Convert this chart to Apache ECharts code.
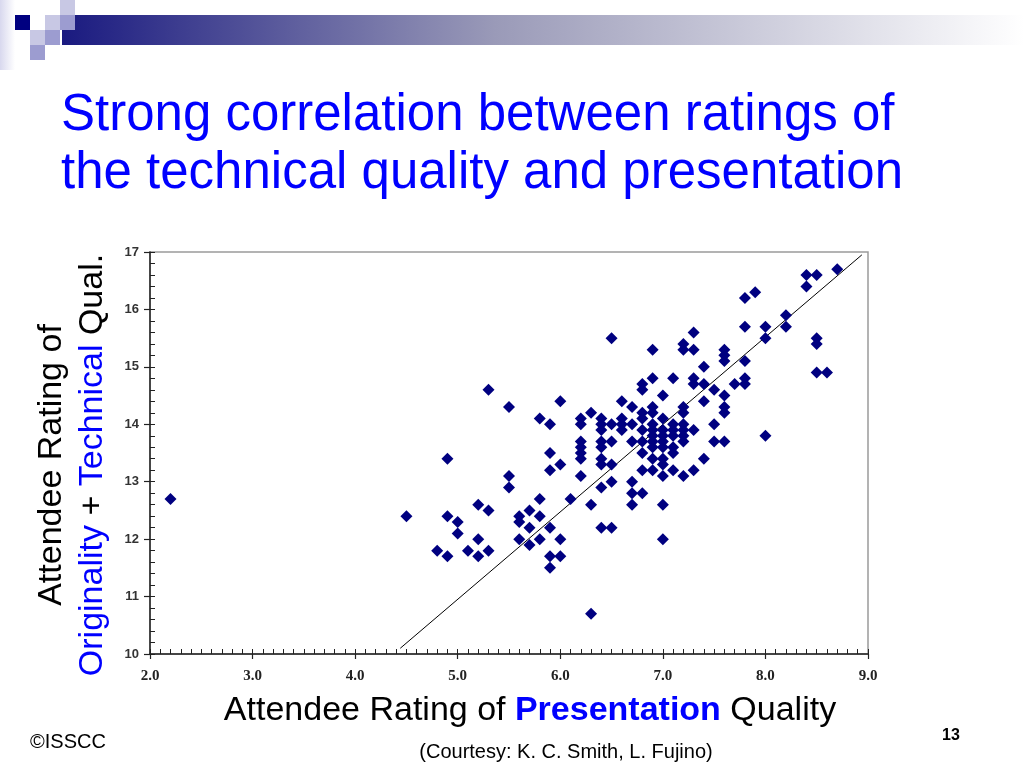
<!DOCTYPE html>
<html>
<head>
<meta charset="utf-8">
<script src="https://cdn.jsdelivr.net/npm/echarts@6/dist/echarts.min.js"></script>
<style>
html,body{margin:0;padding:0;background:#fff;}
#c{width:1024px;height:768px;}
</style>
</head>
<body>
<div id="c"></div>
<script>
// Presentation rating (x) and Originality+Technical rating (y)
const xTickLabels = ['2.0','3.0','4.0','5.0','6.0','7.0','8.0','9.0'];
const yTickLabels = ['10','11','12','13','14','15','16','17'];
const columns = [
  [2.2, [12.7]],
  [4.5, [12.4]],
  [4.8, [11.8]],
  [4.9, [13.4, 12.4, 11.7]],
  [5.0, [12.3, 12.1]],
  [5.1, [11.8]],
  [5.2, [12.6, 12.0, 11.7]],
  [5.3, [14.6, 12.5, 11.8]],
  [5.5, [14.3, 13.1, 12.9]],
  [5.6, [12.4, 12.3, 12.0]],
  [5.7, [12.5, 12.2, 11.9]],
  [5.8, [14.1, 12.7, 12.4, 12.0]],
  [5.9, [14.0, 13.5, 13.2, 12.2, 11.7, 11.5]],
  [6.0, [14.4, 13.3, 12.0, 11.7]],
  [6.1, [12.7]],
  [6.2, [14.1, 14.0, 13.7, 13.6, 13.5, 13.4, 13.1]],
  [6.3, [14.2, 12.6, 10.7]],
  [6.4, [14.1, 14.0, 13.9, 13.7, 13.6, 13.4, 13.3, 12.9, 12.2]],
  [6.5, [15.5, 14.0, 13.7, 13.3, 13.0, 12.2]],
  [6.6, [14.4, 14.1, 14.0, 13.9]],
  [6.7, [14.3, 14.0, 13.7, 13.0, 12.8, 12.6]],
  [6.8, [14.7, 14.6, 14.2, 14.1, 13.9, 13.7, 13.5, 13.2, 12.8]],
  [6.9, [15.3, 14.8, 14.3, 14.2, 14.0, 13.9, 13.8, 13.7, 13.6, 13.4, 13.2]],
  [7.0, [14.5, 14.1, 13.9, 13.8, 13.7, 13.6, 13.4, 13.3, 13.1, 12.6, 12.0]],
  [7.1, [14.8, 14.0, 13.9, 13.8, 13.6, 13.5, 13.2]],
  [7.2, [15.4, 15.3, 14.3, 14.2, 14.0, 13.9, 13.8, 13.7, 13.1]],
  [7.3, [15.6, 15.3, 14.8, 14.7, 13.9, 13.2]],
  [7.4, [15.0, 14.7, 14.4, 13.4]],
  [7.5, [14.6, 14.0, 13.7]],
  [7.6, [15.3, 15.2, 15.1, 14.5, 14.3, 14.2, 13.7]],
  [7.7, [14.7]],
  [7.8, [16.2, 15.7, 15.1, 14.8, 14.7]],
  [7.9, [16.3]],
  [8.0, [15.7, 15.5, 13.8]],
  [8.2, [15.9, 15.7]],
  [8.4, [16.6, 16.4]],
  [8.5, [16.6, 15.5, 15.4, 14.9]],
  [8.6, [14.9]],
  [8.7, [16.7]]
];
const fitLine = [[4.44, 10.1], [8.94, 16.95]];

const points = [];
columns.forEach(c => c[1].forEach(v => points.push([c[0], v])));

const chart = echarts.init(document.getElementById('c'), null, {renderer: 'canvas'});
const axisCol = '#222';
const sans = '"Liberation Sans", Arial, sans-serif';
const option = {
  backgroundColor: '#fff',
  animation: false,
  grid: {left: 150, right: 156, top: 252, bottom: 114, show: true, borderColor: '#9a9a9a', borderWidth: 1.5, backgroundColor: '#fff'},
  xAxis: [
    {type: 'value', min: 2, max: 9, interval: 1,
     axisLine: {show: true, onZero: false, lineStyle: {color: axisCol, width: 1.5}},
     axisTick: {show: true, inside: false, length: 5, lineStyle: {color: axisCol, width: 1.2}},
     axisLabel: {margin: 15, color: '#222', fontFamily: 'Liberation Serif', fontWeight: 'bold', fontSize: 15,
       formatter: v => xTickLabels[Math.round(v - 2)]},
     splitLine: {show: false}},
    {type: 'value', min: 2, max: 9, interval: 0.1, position: 'bottom',
     axisLine: {show: false},
     axisTick: {show: true, inside: true, length: 5, lineStyle: {color: axisCol, width: 1}},
     axisLabel: {show: false}, splitLine: {show: false}}
  ],
  yAxis: [
    {type: 'value', min: 10, max: 17, interval: 1,
     axisLine: {show: true, onZero: false, lineStyle: {color: axisCol, width: 1.5}},
     axisTick: {show: true, inside: false, length: 6, lineStyle: {color: axisCol, width: 1.2}},
     axisLabel: {margin: 11, color: '#333', fontFamily: 'Liberation Sans', fontWeight: 'bold', fontSize: 13,
       formatter: v => yTickLabels[Math.round(v - 10)]},
     splitLine: {show: false}},
    {type: 'value', min: 10, max: 17, interval: 0.2, position: 'left',
     axisLine: {show: false},
     axisTick: {show: true, inside: true, length: 5, lineStyle: {color: axisCol, width: 1}},
     axisLabel: {show: false}, splitLine: {show: false}}
  ],
  series: [
    {type: 'line', data: fitLine, xAxisIndex: 0, yAxisIndex: 0, symbol: 'none',
     lineStyle: {color: '#000', width: 1}, z: 2, silent: true},
    {type: 'scatter', data: points, xAxisIndex: 0, yAxisIndex: 0, symbol: 'diamond', symbolSize: 12,
     itemStyle: {color: '#000080', opacity: 1}, z: 3}
  ],
  graphic: [
    // decorative header
    {type: 'rect', shape: {x: 0, y: 0, width: 15, height: 70}, style: {fill: new echarts.graphic.LinearGradient(0,0,1,0,[{offset:0,color:'#d8d8ee'},{offset:1,color:'#ffffff'}])}, z: 1},
    {type: 'rect', shape: {x: 62, y: 15, width: 962, height: 30}, style: {fill: new echarts.graphic.LinearGradient(0,0,1,0,[{offset:0,color:'#1a1a80'},{offset:0.45,color:'#9a9ab8'},{offset:1,color:'#ffffff'}])}, z: 1},
    {type: 'rect', shape: {x: 15, y: 15, width: 15, height: 15}, style: {fill: '#000080'}, z: 2},
    {type: 'rect', shape: {x: 45, y: 15, width: 15, height: 15}, style: {fill: '#c8c8e4'}, z: 2},
    {type: 'rect', shape: {x: 60, y: 0, width: 15, height: 15}, style: {fill: '#c8c8e4'}, z: 2},
    {type: 'rect', shape: {x: 60, y: 15, width: 15, height: 15}, style: {fill: '#9c9cd0'}, z: 2},
    {type: 'rect', shape: {x: 30, y: 30, width: 15, height: 15}, style: {fill: '#c8c8e4'}, z: 2},
    {type: 'rect', shape: {x: 45, y: 30, width: 15, height: 15}, style: {fill: '#9c9cd0'}, z: 2},
    {type: 'rect', shape: {x: 30, y: 45, width: 15, height: 15}, style: {fill: '#9c9cd0'}, z: 2},
    // title
    {type: 'text', left: 61, top: 87, style: {
      text: 'Strong correlation between ratings of\nthe technical quality and presentation',
      font: '51px ' + sans, fill: '#0000ff', lineHeight: 58}},
    // y axis title
    {type: 'text', x: 72, y: 465, rotation: Math.PI / 2, style: {
      text: '{k|Attendee Rating of}\n{b|Originality}{k| + }{b|Technical}{k| Qual.}',
      align: 'center', verticalAlign: 'middle',
      rich: {
        k: {font: '34px ' + sans, fill: '#000', lineHeight: 41},
        b: {font: '34px ' + sans, fill: '#0000ff', lineHeight: 41}
      }}},
    // x axis title
    {type: 'text', x: 530, y: 711, style: {
      text: '{k|Attendee Rating of }{b|Presentation}{k| Quality}',
      align: 'center', verticalAlign: 'middle',
      rich: {
        k: {font: '34px ' + sans, fill: '#000'},
        b: {font: 'bold 34px ' + sans, fill: '#0000ff'}
      }}},
    {type: 'text', x: 30, y: 742, style: {text: '©ISSCC', font: '20px ' + sans, fill: '#000', verticalAlign: 'middle'}},
    {type: 'text', x: 566, y: 752, style: {text: '(Courtesy: K. C. Smith, L. Fujino)', font: '20px ' + sans, fill: '#000', align: 'center', verticalAlign: 'middle'}},
    {type: 'text', x: 951, y: 736, style: {text: '13', font: 'bold 16px ' + sans, fill: '#000', align: 'center', verticalAlign: 'middle'}}
  ]
};
chart.setOption(option);
</script>
</body>
</html>
